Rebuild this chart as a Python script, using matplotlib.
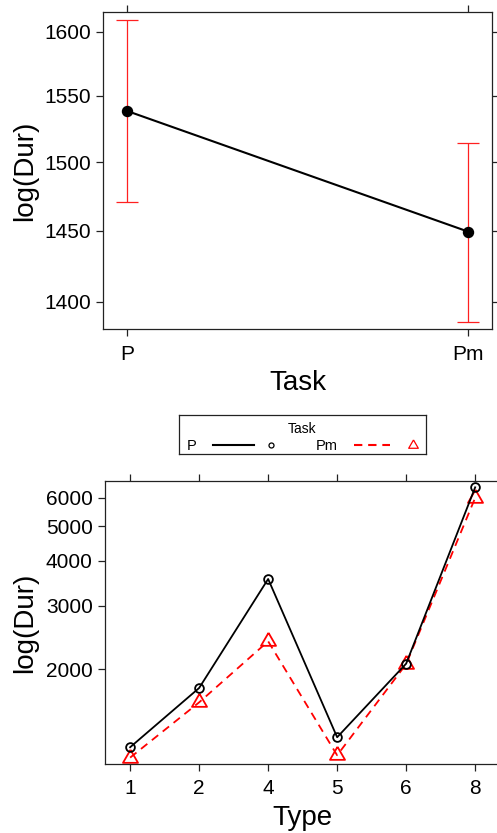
import matplotlib
matplotlib.use("Agg")
import matplotlib.pyplot as plt
from matplotlib.ticker import FixedLocator, FixedFormatter, NullLocator

plt.rcParams['font.family'] = ['Liberation Sans', 'DejaVu Sans']

# Task main effect: fitted duration with confidence limits
task_levels = ["P", "Pm"]
task_fit = [1538.5, 1449.3]
task_lower = [1471.0, 1386.0]
task_upper = [1609.3, 1514.5]
task_yticks = [1400, 1450, 1500, 1550, 1600]

# Type x Task interaction
type_levels = ["1", "2", "4", "5", "6", "8"]
dur_P = [1211, 1771, 3563, 1291, 2070, 6414]
dur_Pm = [1133, 1615, 2389, 1150, 2064, 5995]
type_yticks = [2000, 3000, 4000, 5000, 6000]

W, H = 497, 833
fig = plt.figure(figsize=(W / 100, H / 100), dpi=100)


def rect(l, t, r, b):
    return [l / W, 1 - b / H, (r - l) / W, (b - t) / H]


TICK_FS = 15
LABEL_FS = 20
FRAME = "#222222"

# triangle marker centred on its centroid
tri = [(0, 1), (-0.866, -0.5), (0.866, -0.5), (0, 1)]


def style_axes(ax, yticks, right_ticks=True):
    ax.set_yscale('log')
    ax.yaxis.set_major_locator(FixedLocator(yticks))
    ax.yaxis.set_major_formatter(FixedFormatter([str(v) for v in yticks]))
    ax.yaxis.set_minor_locator(NullLocator())
    for s in ax.spines.values():
        s.set_linewidth(0.9)
        s.set_color(FRAME)
    ax.tick_params(axis='both', which='major', direction='out', length=5,
                   width=0.9, color=FRAME, labelsize=TICK_FS, pad=4)
    ax.tick_params(axis='x', top=True, bottom=True, pad=6.5)
    ax.tick_params(axis='y', left=True, right=right_ticks)


# ---- top panel: Task effect ----
ax1 = fig.add_axes(rect(103.3, 12.3, 492.3, 329))
xt = list(range(1, len(task_levels) + 1))
yerr = [[f - lo for f, lo in zip(task_fit, task_lower)],
        [hi - f for f, hi in zip(task_fit, task_upper)]]
ax1.errorbar(xt, task_fit, yerr=yerr, fmt='none', ecolor='#ff2020',
             elinewidth=0.9, capsize=7.9, capthick=0.9, zorder=2)
ax1.plot(xt, task_fit, color='black', lw=1.5, marker='o', ms=7.2,
         mfc='black', mec='black', zorder=3)
style_axes(ax1, task_yticks)
ax1.set_ylim(1381.2, 1615.5)
ax1.set_xlim(0.93, 2.07)
ax1.set_xticks(xt)
ax1.set_xticklabels(task_levels)
fig.text(25 / W, 1 - 171 / H, "log(Dur)", rotation=90, ha='center',
         va='center', fontsize=LABEL_FS)
fig.text(298 / W, 1 - 383 / H, "Task", ha='center', va='center',
         fontsize=LABEL_FS)

# ---- legend ----
axl = fig.add_axes(rect(179, 415, 426, 454))
axl.set_xlim(179, 426)
axl.set_ylim(454, 415)
axl.set_xticks([])
axl.set_yticks([])
for s in axl.spines.values():
    s.set_linewidth(0.9)
    s.set_color(FRAME)
axl.text(302.3, 429, "Task", ha='center', va='center', fontsize=10)
axl.text(192, 446, "P", ha='center', va='center', fontsize=10.5)
axl.plot([213, 254], [445, 445], color='black', lw=1.5)
axl.plot([270.7], [445], ls='none', marker='o', ms=3.6, mfc='none',
         mec='black', mew=0.9)
axl.text(327, 446, "Pm", ha='center', va='center', fontsize=10.5)
axl.plot([354, 390], [445, 445], color='red', lw=1.5, dashes=(4, 2.8))
axl.plot([413.3], [444.5], ls='none', marker=tri, ms=8, mfc='none',
         mec='red', mew=0.9)

# ---- bottom panel: Type x Task ----
ax2 = fig.add_axes(rect(105.3, 480.7, 500, 763.5))
xb = list(range(1, len(type_levels) + 1))
ax2.plot(xb, dur_P, color='black', lw=1.3, marker='o', ms=6.3,
         mfc='none', mec='black', mew=1.3, zorder=3)
ax2.plot(xb, dur_Pm, color='red', lw=1.3, dashes=(4.5, 3.2), marker=tri,
         ms=12.5, mfc='none', mec='red', mew=1.3, zorder=2)
style_axes(ax2, type_yticks)
ax2.set_ylim(1091, 6693)
ax2.set_xlim(0.64, 6.36)
ax2.set_xticks(xb)
ax2.set_xticklabels(type_levels)
fig.text(25 / W, 1 - 623 / H, "log(Dur)", rotation=90, ha='center',
         va='center', fontsize=LABEL_FS)
fig.text(302 / W, 1 - 818 / H, "Type", ha='center', va='center',
         fontsize=LABEL_FS)

fig.savefig("out.png", dpi=100)
